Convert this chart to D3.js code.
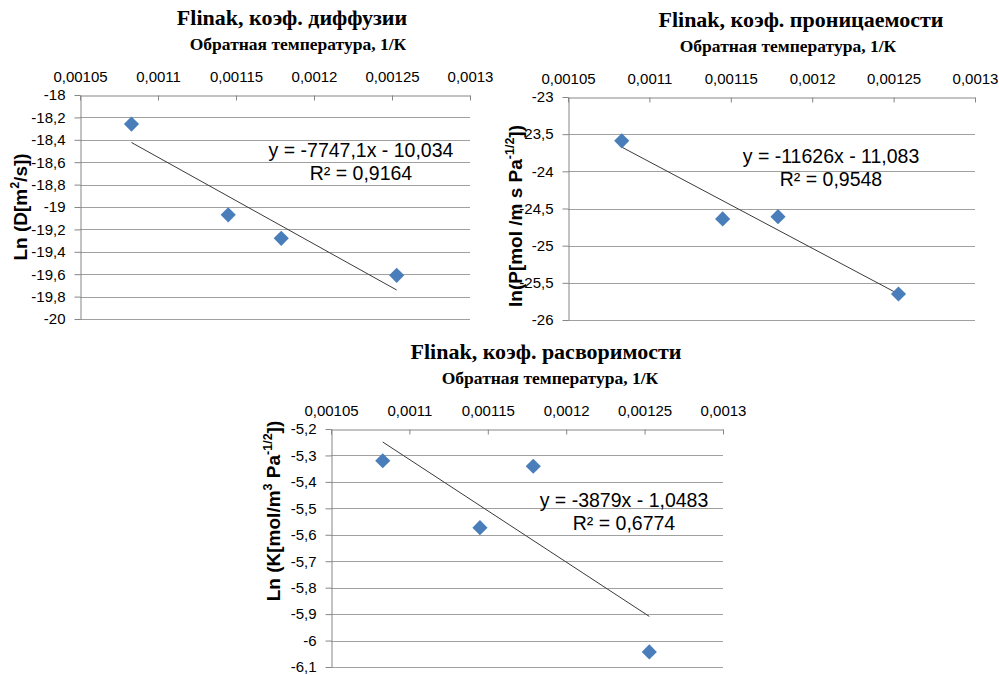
<!DOCTYPE html>
<html>
<head>
<meta charset="utf-8">
<script src="https://cdn.jsdelivr.net/npm/d3@7"></script>
<style>
  body { margin: 0; background: #fff; }
</style>
</head>
<body>
<script>
// inverse temperature (1/K), same four runs in all three charts
const invT = [0.001083, 0.001145, 0.001179, 0.001253];
const xTicks = [0.00105, 0.0011, 0.00115, 0.0012, 0.00125, 0.0013];

// ln D, ln P, ln K
const lnD = [-18.26, -19.07, -19.28, -19.61];
const lnP = [-23.59, -24.64, -24.61, -25.65];
const lnK = [-5.32, -5.573, -5.341, -6.043];

const dTicks = [-18, -18.2, -18.4, -18.6, -18.8, -19, -19.2, -19.4, -19.6, -19.8, -20];
const pTicks = [-23, -23.5, -24, -24.5, -25, -25.5, -26];
const kTicks = [-5.2, -5.3, -5.4, -5.5, -5.6, -5.7, -5.8, -5.9, -6, -6.1];

// trendline slope / intercept as printed on the chart
const fitD = [-7747.1, -10.034];
const fitP = [-11626, -11.083];
const fitK = [-3879, -1.0483];

const eqD = ["y = -7747,1x - 10,034", "R² = 0,9164"];
const eqP = ["y = -11626x - 11,083", "R² = 0,9548"];
const eqK = ["y = -3879x - 1,0483", "R² = 0,6774"];

const titles = ["Flinak, коэф. диффузии", "Flinak, коэф. проницаемости", "Flinak, коэф. расворимости"];
const xTitle = "Обратная температура, 1/К";

const width = 999, height = 675;
const gridColor = "#a0a0a0", axisColor = "#868686", markColor = "#4a7ebb";

const loc = d3.formatLocale({decimal: ",", thousands: " ", grouping: [3], currency: ["", ""], minus: "-"});
const fmt = loc.format("");

const svg = d3.select("body").append("svg")
    .attr("width", width)
    .attr("height", height)
    .style("font-family", "'Liberation Sans', Arial, sans-serif");

function chart(o) {
  const x = d3.scaleLinear().domain([xTicks[0], xTicks[xTicks.length - 1]]).range([o.left, o.right]);
  const y = d3.scaleLinear().domain([o.yTicks[0], o.yTicks[o.yTicks.length - 1]]).range([o.top, o.bottom]);
  const g = svg.append("g");

  // horizontal gridlines
  g.append("g")
    .selectAll("line")
    .data(o.yTicks.slice(1))
    .join("line")
      .attr("x1", o.left).attr("x2", o.right)
      .attr("y1", d => Math.round(y(d)) + 0.5).attr("y2", d => Math.round(y(d)) + 0.5)
      .attr("stroke", gridColor);

  const ya = g.append("g")
      .attr("transform", `translate(${Math.round(o.left) + 0.5},0)`)
      .call(d3.axisLeft(y).tickValues(o.yTicks).tickFormat(fmt).tickSizeInner(6).tickSizeOuter(0).tickPadding(9));

  const xa = g.append("g")
      .attr("transform", `translate(0,${Math.round(o.top) + 0.5})`)
      .call(d3.axisTop(x).tickValues(xTicks).tickFormat(fmt).tickSizeInner(-5).tickSizeOuter(0).tickPadding(14));

  [ya, xa].forEach(a => {
    a.attr("font-family", null).attr("font-size", 15);
    a.selectAll("path, line").attr("stroke", axisColor);
    a.selectAll("text").attr("fill", "#000");
  });

  // trendline over the range of the data
  const ext = d3.extent(invT);
  g.append("line")
      .attr("x1", x(ext[0])).attr("y1", y(o.fit[0] * ext[0] + o.fit[1]))
      .attr("x2", x(ext[1])).attr("y2", y(o.fit[0] * ext[1] + o.fit[1]))
      .attr("stroke", "#3a3a3a")
      .attr("stroke-width", 1);

  g.append("g")
    .selectAll("path")
    .data(invT.map((t, i) => [t, o.values[i]]))
    .join("path")
      .attr("d", d3.symbol(d3.symbolSquare, 115))
      .attr("transform", d => `translate(${x(d[0])},${y(d[1])}) rotate(45)`)
      .attr("fill", markColor);

  // equation + R²
  g.append("text")
      .attr("x", o.eqX).attr("y", o.eqY)
      .attr("text-anchor", "middle")
      .attr("font-size", 19.5)
      .text(o.eq[0]);
  g.append("text")
      .attr("x", o.eqX).attr("y", o.eqY + 23)
      .attr("text-anchor", "middle")
      .attr("font-size", 19.5)
      .text(o.eq[1]);

  // titles
  g.append("text")
      .attr("x", o.titleX).attr("y", o.top - 70)
      .attr("text-anchor", "middle")
      .attr("font-family", "'Liberation Serif', 'Times New Roman', serif")
      .attr("font-weight", "bold")
      .attr("font-size", 22)
      .text(o.title);
  g.append("text")
      .attr("x", o.xTitleX).attr("y", o.top - 45)
      .attr("text-anchor", "middle")
      .attr("font-family", "'Liberation Serif', 'Times New Roman', serif")
      .attr("font-weight", "bold")
      .attr("font-size", 17.5)
      .text(xTitle);

  // rotated y label with superscripts
  const yl = g.append("text")
      .attr("transform", `translate(${o.yLabX},${o.yLabY}) rotate(-90)`)
      .attr("text-anchor", "middle")
      .attr("dy", "0.35em")
      .attr("font-weight", "bold")
      .attr("font-size", 19);
  let up = false;
  o.yLabel.forEach(([s, sup]) => {
    const t = yl.append("tspan").text(s);
    if (sup) { t.attr("font-size", 12.5).attr("dy", "-0.6em"); up = true; }
    else if (up) { t.attr("dy", "0.4em"); up = false; }
  });
}

chart({
  left: 80, right: 470, top: 95, bottom: 319,
  yTicks: dTicks, values: lnD, fit: fitD, eq: eqD, eqX: 361, eqY: 157,
  title: titles[0], titleX: 292, xTitleX: 298,
  yLabel: [["Ln (D[m"], ["2", true], ["/s])"]], yLabX: 20, yLabY: 207
});

chart({
  left: 568, right: 975, top: 97, bottom: 320,
  yTicks: pTicks, values: lnP, fit: fitP, eq: eqP, eqX: 831, eqY: 163,
  title: titles[1], titleX: 801, xTitleX: 788,
  yLabel: [["ln(P[mol /m s Pa"], ["-1/2", true], ["])"]], yLabX: 515, yLabY: 216
});

chart({
  left: 331, right: 723, top: 429, bottom: 667,
  yTicks: kTicks, values: lnK, fit: fitK, eq: eqK, eqX: 624, eqY: 507,
  title: titles[2], titleX: 546, xTitleX: 550,
  yLabel: [["Ln (K[mol/m"], ["3", true], [" Pa"], ["-1/2", true], ["])"]], yLabX: 273, yLabY: 511
});
</script>
</body>
</html>
